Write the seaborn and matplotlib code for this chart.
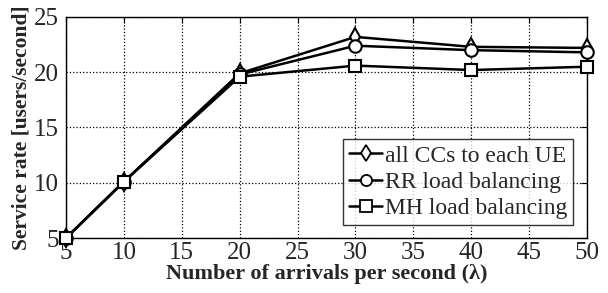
import numpy as np
import pandas as pd
import matplotlib
matplotlib.use("Agg")
import matplotlib.pyplot as plt
import seaborn as sns

# data
arrivals = [5, 10, 20, 30, 40, 50]
all_ccs = [5.0, 10.1, 19.9, 23.2, 22.3, 22.2]
rr_lb = [5.0, 10.1, 19.8, 22.4, 22.0, 21.8]
mh_lb = [5.0, 10.1, 19.6, 20.6, 20.2, 20.5]

labels = ["all CCs to each UE", "RR load balancing", "MH load balancing"]
markers = ["d", "o", "s"]

sns.set_style("white")
plt.rcParams['font.family'] = ['Liberation Serif', 'DejaVu Serif']

fig = plt.figure(figsize=(6.08, 2.93), dpi=100)
ax = fig.add_axes([0.1086, 0.1877, 0.8569, 0.7543])

#Draw each series
for vals, lab, mk in zip([all_ccs, rr_lb, mh_lb], labels, markers):
    df = pd.DataFrame({"x": arrivals, "y": vals})
    sns.lineplot(data=df, x="x", y="y", ax=ax, color="black", lw=1.8,
                 marker=mk, markersize=9, markerfacecolor="white",
                 markeredgecolor="black", markeredgewidth=1.5, label=lab,
                 clip_on=False, zorder=5)

#Tidy axes
ax.set_xlim(5, 50)
ax.set_ylim(5, 25)
ax.set_xticks(np.arange(5, 51, 5))
ax.set_yticks(np.arange(5, 26, 5))
ax.tick_params(direction="in", top=True, right=True, labelsize=18, length=4,
               color="black")
ax.tick_params(axis="y", pad=5)
ax.tick_params(axis="x", pad=3)
ax.grid(True, linestyle=":", color="black", lw=0.9)
for s in ax.spines.values():
    s.set_color("black")
    s.set_linewidth(1.0)

ax.set_xlabel("Number of arrivals per second (λ)", fontsize=16,
              fontweight="bold", labelpad=0)
ax.set_ylabel("Service rate [users/second]", fontsize=15.5,
              fontweight="bold", labelpad=2)

leg = ax.legend(loc="lower right", bbox_to_anchor=(0.973, 0.059), fontsize=17,
                frameon=True, fancybox=False, edgecolor="black",
                handlelength=1.4, handletextpad=0.1, borderpad=0.25,
                labelspacing=0.2, borderaxespad=0)
leg.get_frame().set_linewidth(1.0)
leg.set_zorder(10)
for h in leg.legend_handles:
    h.set_markersize(8)
    h.set_markeredgewidth(1.3)

fig.savefig("out.png", dpi=100)
